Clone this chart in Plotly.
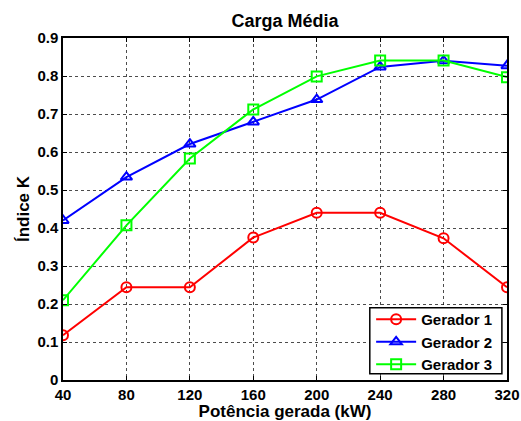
import plotly.graph_objects as go

potencia = [40, 80, 120, 160, 200, 240, 280, 320]
gerador1 = [0.118, 0.244, 0.244, 0.375, 0.44, 0.44, 0.373, 0.244]
gerador2 = [0.42, 0.534, 0.621, 0.679, 0.738, 0.824, 0.84, 0.827]
gerador3 = [0.21, 0.407, 0.583, 0.712, 0.799, 0.841, 0.841, 0.797]
names = ["Gerador 1", "Gerador 2", "Gerador 3"]
colors = ["#ff0000", "#0000ff", "#00ff00"]
symbols = ["circle-open", "triangle-up-open", "square-open"]
x_ticks = [40, 80, 120, 160, 200, 240, 280, 320]
y_ticks = [0, 0.1, 0.2, 0.3, 0.4, 0.5, 0.6, 0.7, 0.8, 0.9]

fig = go.Figure()
for name, ys, c, s in zip(names, [gerador1, gerador2, gerador3], colors, symbols):
    fig.add_trace(go.Scatter(
        x=potencia, y=ys, name=name, mode="lines+markers",
        line=dict(color=c, width=2),
        marker=dict(symbol=s, size=10, color=c, line=dict(width=2, color=c)),
    ))

font = "Liberation Sans, Arial, sans-serif"
axis_common = dict(
    showline=True, linecolor="black", linewidth=1.5, mirror="ticks",
    ticks="inside", ticklen=4, tickcolor="black",
    showgrid=True, gridcolor="rgba(0,0,0,0.7)", griddash="dot", gridwidth=1,
    zeroline=False, automargin=False,
    tickfont=dict(family=font, size=15, color="black", weight="bold"),
)
fig.update_layout(
    width=521, height=421,
    margin=dict(l=63, r=14, t=38, b=41),
    paper_bgcolor="white", plot_bgcolor="white",
    title=dict(text="<b>Carga Média</b>", x=0.5, xanchor="center", y=0.952, yanchor="middle",
               xref="paper", font=dict(family=font, size=18, color="black")),
    xaxis=dict(range=[40, 320], tickvals=x_ticks,
               title=dict(text="<b>Potência gerada (kW)</b>", standoff=2,
                          font=dict(family=font, size=17, color="black")),
               **axis_common),
    yaxis=dict(range=[0, 0.9], tickvals=y_ticks, ticktext=[f"{v:g}" for v in y_ticks],
               title=dict(text="<b>Índice K</b>", standoff=3,
                          font=dict(family=font, size=17, color="black")),
               **axis_common),
    legend=dict(x=0.694, y=0.225, xanchor="left", yanchor="top",
                borderwidth=0, bgcolor="rgba(0,0,0,0)",
                font=dict(family=font, size=15, color="black", weight="bold"),
                tracegroupgap=0, itemwidth=40),
    showlegend=True,
)
# legend frame
fig.add_shape(type="rect", xref="paper", yref="paper",
              x0=0.691, x1=0.9885, y0=0.018, y1=0.211,
              line=dict(color="black", width=1.5), fillcolor="white", layer="above")
fig.write_html("out.html", post_script="document.body.style.margin='0';",
               config={"displayModeBar": False})
